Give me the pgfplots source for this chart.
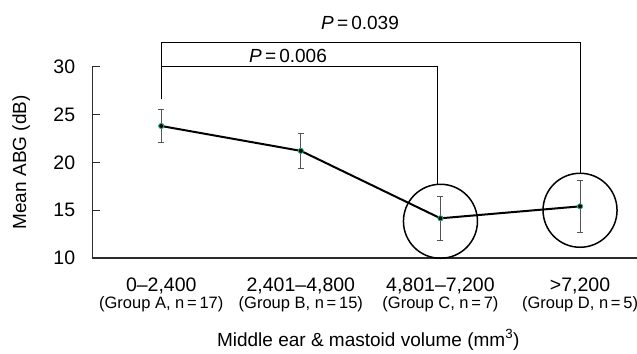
\documentclass[border=0pt]{standalone}
\usepackage{fontspec}
\setmainfont{Liberation Sans}
\usepackage{pgfplots}
\pgfplotsset{compat=1.18}
\definecolor{mk}{HTML}{1FA57A}
\definecolor{ax}{HTML}{2B2B2B}
\newcommand{\fbig}{\fontsize{19.5bp}{23bp}\selectfont}
\newcommand{\fmid}{\fontsize{19bp}{23bp}\selectfont}
\newcommand{\fsmall}{\fontsize{16.5bp}{20bp}\selectfont}
\newcommand{\fp}{\fontsize{19bp}{23bp}\selectfont}
\begin{document}
\begin{tikzpicture}
\useasboundingbox (-92.3bp,-96bp) rectangle (544.7bp,258bp);
\begin{axis}[
  at={(0,0)}, anchor=south west,
  scale only axis, width=544.7bp, height=191.3bp,
  xmin=-0.494, xmax=3.408, ymin=10, ymax=30,
  clip=false,
  separate axis lines,
  axis x line*=bottom, axis y line*=left,
  x axis line style={-, draw=ax, line width=1.4bp},
  y axis line style={-, draw=ax, line width=1bp},
  /pgf/number format/assume math mode=true,
  ytick={10,15,20,25,30},
  tick align=inside,
  major tick length=7.5bp,
  y tick style={draw=ax, line width=1bp},
  yticklabel style={font=\fbig, anchor=east, inner sep=0pt, xshift=-17bp},
  xtick={0,1,2,3},
  xticklabels={{0--2,400},{2,401--4,800},{4,801--7,200},{>7,200}},
  x tick style={draw=none},
  xticklabel style={font=\fbig, anchor=base, inner sep=0pt, yshift=-33.2bp},
  extra x ticks={0,1,2,3},
  extra x tick labels={{(Group A, n\,=\,17)},{(Group B, n\,=\,15)},{(Group C, n\,=\,7)},{(Group D, n\,=\,5)}},
  extra x tick style={x tick style={draw=none}, xticklabel style={font=\fsmall, yshift=-17.5bp}},
  xlabel={Middle ear \& mastoid volume (mm\textsuperscript{3})},
  every axis x label/.style={at={(axis description cs:0.5067,0)}, anchor=base, font=\fmid, inner sep=0pt, yshift=-88bp},
  ylabel={Mean ABG (dB)},
  every axis y label/.style={at={(axis description cs:-0.1303,0.5)}, rotate=90, anchor=center, font=\fmid, inner sep=0pt},
]
% significance brackets
\draw[black, line width=1bp] (axis cs:0,26.59) -- (axis cs:0,32.48) -- (axis cs:3,32.48) -- (axis cs:3,18.85);
\draw[black, line width=1bp] (axis cs:0,30.07) -- (axis cs:1.98,30.07) -- (axis cs:1.98,17.7);
\node[font=\fp, anchor=base, inner sep=0pt] at (axis cs:0.908,30.46) {\textit{P}\,=\,0.006};
\node[font=\fp, anchor=base, inner sep=0pt] at (axis cs:1.424,33.84) {\textit{P}\,=\,0.039};
% circles
\draw[black, line width=1.5bp] (axis cs:2,13.84) circle[radius=37bp];
\draw[black, line width=1.5bp] (axis cs:3,14.99) circle[radius=37bp];
% data
\addplot[black, line width=2bp, mark=*, mark size=2.6bp,
  mark options={fill=black, draw=mk, line width=0.9bp},
  error bars/.cd, y dir=both, y explicit,
  error bar style={draw=ax!80, line width=0.9bp},
  error mark options={rotate=90, mark size=3bp, draw=ax!80, line width=0.9bp}]
  coordinates {
  (0,23.8) +- (0,1.7)
  (1,21.2) +- (0,1.8)
  (2,14.15) +- (0,2.3)
  (3,15.4) +- (0,2.75)
  };
\end{axis}
\end{tikzpicture}
\end{document}
